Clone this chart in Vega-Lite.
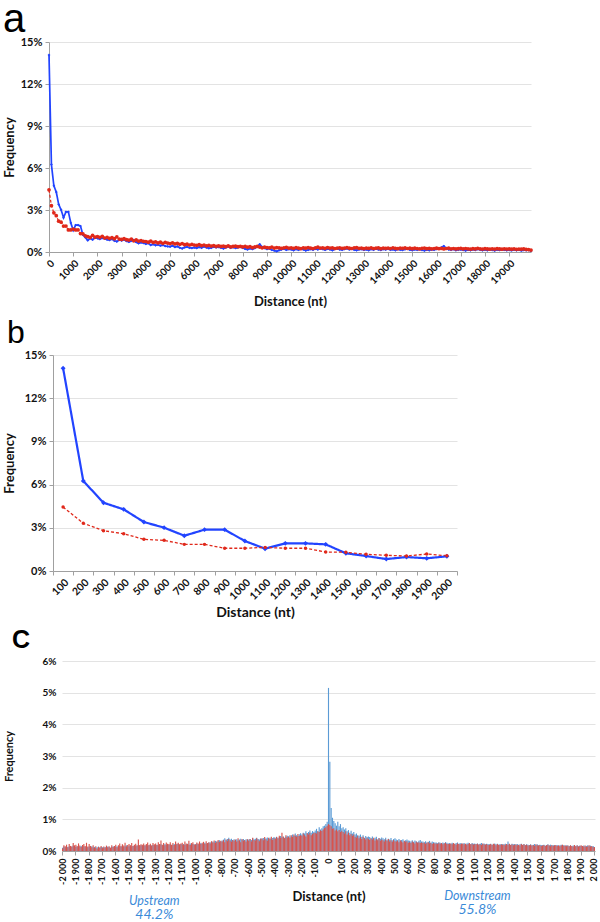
{
"$schema": "https://vega.github.io/schema/vega-lite/v6.json",
"background": "white",
"padding": {"left": 2, "top": 0, "right": 0, "bottom": 0},
"spacing": 8,
"resolve": {"scale": {"color": "independent", "size": "independent", "shape": "independent", "strokeDash": "independent", "strokeWidth": "independent"}},
"config": {
  "view": {"stroke": null},
  "font": "Lato",
  "axis": {"labelFont": "Lato", "labelFontWeight": "bold", "labelColor": "#111", "titleFont": "Lato", "titleFontWeight": "bold", "titleColor": "#111", "gridColor": "#e3e3e3", "domainColor": "#a0a0a0", "tickColor": "#a0a0a0", "tickSize": 4, "labelOverlap": false},
  "axisX": {"grid": false}
},
"datasets": {
"a": [
{"x":0,"b":14.08,"r":4.44},{"x":100,"b":6.25,"r":3.31},{"x":200,"b":4.74,"r":2.80},{"x":300,"b":4.28,"r":2.59},{"x":400,"b":3.40,"r":2.20},{"x":500,"b":3.01,"r":2.13},{"x":600,"b":2.45,"r":1.85},{"x":700,"b":2.87,"r":1.85},{"x":800,"b":2.87,"r":1.58},{"x":900,"b":2.08,"r":1.58},
{"x":1000,"b":1.55,"r":1.64},{"x":1100,"b":1.92,"r":1.58},{"x":1200,"b":1.92,"r":1.58},{"x":1300,"b":1.85,"r":1.32},{"x":1400,"b":1.23,"r":1.30},{"x":1500,"b":1.04,"r":1.16},{"x":1600,"b":0.83,"r":1.09},{"x":1700,"b":0.97,"r":1.04},{"x":1800,"b":0.88,"r":1.18},{"x":1900,"b":1.02,"r":1.06},
{"x":2000,"b":0.98,"r":1.10},{"x":2100,"b":0.92,"r":1.05},{"x":2200,"b":1.00,"r":1.12},{"x":2300,"b":0.95,"r":1.00},{"x":2400,"b":0.88,"r":1.04},{"x":2500,"b":0.85,"r":0.98},{"x":2600,"b":0.92,"r":1.02},{"x":2700,"b":0.80,"r":0.95},{"x":2800,"b":0.75,"r":1.08},{"x":2900,"b":0.86,"r":0.92},
{"x":3000,"b":0.82,"r":0.90},{"x":3100,"b":0.88,"r":0.95},{"x":3200,"b":0.78,"r":0.88},{"x":3300,"b":0.72,"r":0.85},{"x":3400,"b":0.80,"r":0.92},{"x":3500,"b":0.86,"r":0.80},{"x":3600,"b":0.70,"r":0.86},{"x":3700,"b":0.62,"r":0.78},{"x":3800,"b":0.68,"r":0.82},{"x":3900,"b":0.64,"r":0.76},
{"x":4000,"b":0.58,"r":0.75},{"x":4100,"b":0.62,"r":0.70},{"x":4200,"b":0.50,"r":0.78},{"x":4300,"b":0.55,"r":0.68},{"x":4400,"b":0.48,"r":0.72},{"x":4500,"b":0.52,"r":0.65},{"x":4600,"b":0.45,"r":0.70},{"x":4700,"b":0.50,"r":0.62},{"x":4800,"b":0.42,"r":0.68},{"x":4900,"b":0.40,"r":0.64},
{"x":5000,"b":0.38,"r":0.60},{"x":5100,"b":0.45,"r":0.66},{"x":5200,"b":0.35,"r":0.58},{"x":5300,"b":0.40,"r":0.62},{"x":5400,"b":0.30,"r":0.55},{"x":5500,"b":0.25,"r":0.60},{"x":5600,"b":0.33,"r":0.52},{"x":5700,"b":0.36,"r":0.56},{"x":5800,"b":0.30,"r":0.50},{"x":5900,"b":0.28,"r":0.54},
{"x":6000,"b":0.32,"r":0.50},{"x":6100,"b":0.28,"r":0.48},{"x":6200,"b":0.35,"r":0.52},{"x":6300,"b":0.30,"r":0.46},{"x":6400,"b":0.38,"r":0.50},{"x":6500,"b":0.32,"r":0.44},{"x":6600,"b":0.27,"r":0.48},{"x":6700,"b":0.30,"r":0.42},{"x":6800,"b":0.36,"r":0.46},{"x":6900,"b":0.33,"r":0.40},
{"x":7000,"b":0.35,"r":0.44},{"x":7100,"b":0.30,"r":0.40},{"x":7200,"b":0.25,"r":0.42},{"x":7300,"b":0.32,"r":0.38},{"x":7400,"b":0.38,"r":0.44},{"x":7500,"b":0.30,"r":0.36},{"x":7600,"b":0.34,"r":0.40},{"x":7700,"b":0.28,"r":0.42},{"x":7800,"b":0.32,"r":0.38},{"x":7900,"b":0.36,"r":0.40},
{"x":8000,"b":0.30,"r":0.36},{"x":8100,"b":0.22,"r":0.40},{"x":8200,"b":0.18,"r":0.34},{"x":8300,"b":0.25,"r":0.38},{"x":8400,"b":0.20,"r":0.32},{"x":8500,"b":0.28,"r":0.36},{"x":8600,"b":0.40,"r":0.40},{"x":8700,"b":0.55,"r":0.35},{"x":8800,"b":0.35,"r":0.30},{"x":8900,"b":0.28,"r":0.34},
{"x":9000,"b":0.20,"r":0.32},{"x":9100,"b":0.25,"r":0.30},{"x":9200,"b":0.15,"r":0.35},{"x":9300,"b":0.10,"r":0.28},{"x":9400,"b":0.05,"r":0.32},{"x":9500,"b":0.12,"r":0.30},{"x":9600,"b":0.18,"r":0.26},{"x":9700,"b":0.22,"r":0.30},{"x":9800,"b":0.15,"r":0.33},{"x":9900,"b":0.20,"r":0.28},
{"x":10000,"b":0.18,"r":0.30},{"x":10100,"b":0.12,"r":0.26},{"x":10200,"b":0.20,"r":0.32},{"x":10300,"b":0.15,"r":0.28},{"x":10400,"b":0.22,"r":0.24},{"x":10500,"b":0.18,"r":0.30},{"x":10600,"b":0.10,"r":0.27},{"x":10700,"b":0.15,"r":0.32},{"x":10800,"b":0.20,"r":0.28},{"x":10900,"b":0.16,"r":0.25},
{"x":11000,"b":0.22,"r":0.30},{"x":11100,"b":0.18,"r":0.34},{"x":11200,"b":0.25,"r":0.28},{"x":11300,"b":0.20,"r":0.30},{"x":11400,"b":0.15,"r":0.26},{"x":11500,"b":0.22,"r":0.32},{"x":11600,"b":0.18,"r":0.28},{"x":11700,"b":0.12,"r":0.30},{"x":11800,"b":0.20,"r":0.25},{"x":11900,"b":0.24,"r":0.28},
{"x":12000,"b":0.18,"r":0.30},{"x":12100,"b":0.15,"r":0.26},{"x":12200,"b":0.20,"r":0.28},{"x":12300,"b":0.25,"r":0.32},{"x":12400,"b":0.18,"r":0.27},{"x":12500,"b":0.22,"r":0.25},{"x":12600,"b":0.16,"r":0.29},{"x":12700,"b":0.12,"r":0.31},{"x":12800,"b":0.18,"r":0.26},{"x":12900,"b":0.20,"r":0.28},
{"x":13000,"b":0.15,"r":0.24},{"x":13100,"b":0.18,"r":0.28},{"x":13200,"b":0.12,"r":0.26},{"x":13300,"b":0.20,"r":0.30},{"x":13400,"b":0.16,"r":0.25},{"x":13500,"b":0.22,"r":0.27},{"x":13600,"b":0.18,"r":0.29},{"x":13700,"b":0.14,"r":0.24},{"x":13800,"b":0.20,"r":0.28},{"x":13900,"b":0.17,"r":0.26},
{"x":14000,"b":0.22,"r":0.28},{"x":14100,"b":0.15,"r":0.25},{"x":14200,"b":0.18,"r":0.30},{"x":14300,"b":0.12,"r":0.26},{"x":14400,"b":0.20,"r":0.24},{"x":14500,"b":0.16,"r":0.28},{"x":14600,"b":0.14,"r":0.26},{"x":14700,"b":0.19,"r":0.29},{"x":14800,"b":0.22,"r":0.25},{"x":14900,"b":0.15,"r":0.27},
{"x":15000,"b":0.12,"r":0.24},{"x":15100,"b":0.18,"r":0.27},{"x":15200,"b":0.15,"r":0.25},{"x":15300,"b":0.20,"r":0.22},{"x":15400,"b":0.14,"r":0.26},{"x":15500,"b":0.10,"r":0.28},{"x":15600,"b":0.16,"r":0.24},{"x":15700,"b":0.12,"r":0.26},{"x":15800,"b":0.18,"r":0.23},{"x":15900,"b":0.15,"r":0.25},
{"x":16000,"b":0.20,"r":0.27},{"x":16100,"b":0.25,"r":0.24},{"x":16200,"b":0.32,"r":0.26},{"x":16300,"b":0.42,"r":0.22},{"x":16400,"b":0.28,"r":0.25},{"x":16500,"b":0.18,"r":0.27},{"x":16600,"b":0.15,"r":0.23},{"x":16700,"b":0.20,"r":0.25},{"x":16800,"b":0.12,"r":0.22},{"x":16900,"b":0.16,"r":0.24},
{"x":17000,"b":0.18,"r":0.26},{"x":17100,"b":0.14,"r":0.22},{"x":17200,"b":0.10,"r":0.25},{"x":17300,"b":0.15,"r":0.23},{"x":17400,"b":0.12,"r":0.20},{"x":17500,"b":0.18,"r":0.24},{"x":17600,"b":0.14,"r":0.22},{"x":17700,"b":0.20,"r":0.26},{"x":17800,"b":0.16,"r":0.23},{"x":17900,"b":0.12,"r":0.21},
{"x":18000,"b":0.15,"r":0.24},{"x":18100,"b":0.12,"r":0.22},{"x":18200,"b":0.18,"r":0.20},{"x":18300,"b":0.14,"r":0.23},{"x":18400,"b":0.10,"r":0.21},{"x":18500,"b":0.16,"r":0.24},{"x":18600,"b":0.13,"r":0.22},{"x":18700,"b":0.18,"r":0.20},{"x":18800,"b":0.15,"r":0.23},{"x":18900,"b":0.12,"r":0.21},
{"x":19000,"b":0.14,"r":0.22},{"x":19100,"b":0.11,"r":0.20},{"x":19200,"b":0.16,"r":0.23},{"x":19300,"b":0.12,"r":0.19},{"x":19400,"b":0.15,"r":0.21},{"x":19500,"b":0.10,"r":0.20},{"x":19600,"b":0.13,"r":0.22},{"x":19700,"b":0.12,"r":0.18},{"x":19800,"b":0.14,"r":0.17},{"x":19900,"b":0.08,"r":0.14}
],
"bb": [
{"x":100,"b":14.08,"r":4.44},{"x":200,"b":6.25,"r":3.31},{"x":300,"b":4.74,"r":2.80},{"x":400,"b":4.28,"r":2.59},{"x":500,"b":3.40,"r":2.20},{"x":600,"b":3.01,"r":2.13},{"x":700,"b":2.45,"r":1.85},{"x":800,"b":2.87,"r":1.85},{"x":900,"b":2.87,"r":1.58},{"x":1000,"b":2.08,"r":1.58},
{"x":1100,"b":1.55,"r":1.64},{"x":1200,"b":1.92,"r":1.58},{"x":1300,"b":1.92,"r":1.58},{"x":1400,"b":1.85,"r":1.32},{"x":1500,"b":1.23,"r":1.30},{"x":1600,"b":1.04,"r":1.16},{"x":1700,"b":0.83,"r":1.09},{"x":1800,"b":0.97,"r":1.04},{"x":1900,"b":0.88,"r":1.18},{"x":2000,"b":1.02,"r":1.06}
],
"c": [
{"d":-2000,"b":0.10,"r":0.08},{"d":-1990,"b":0.14,"r":0.18},{"d":-1980,"b":0.12,"r":0.15},{"d":-1970,"b":0.16,"r":0.20},{"d":-1960,"b":0.13,"r":0.12},{"d":-1950,"b":0.15,"r":0.22},{"d":-1940,"b":0.11,"r":0.16},{"d":-1930,"b":0.14,"r":0.14},{"d":-1920,"b":0.17,"r":0.25},{"d":-1910,"b":0.12,"r":0.18},
{"d":-1900,"b":0.13,"r":0.20},{"d":-1890,"b":0.15,"r":0.15},{"d":-1880,"b":0.12,"r":0.24},{"d":-1870,"b":0.14,"r":0.17},{"d":-1860,"b":0.16,"r":0.13},{"d":-1850,"b":0.11,"r":0.19},{"d":-1840,"b":0.15,"r":0.22},{"d":-1830,"b":0.13,"r":0.16},{"d":-1820,"b":0.14,"r":0.26},{"d":-1810,"b":0.12,"r":0.14},
{"d":-1800,"b":0.14,"r":0.22},{"d":-1790,"b":0.12,"r":0.16},{"d":-1780,"b":0.15,"r":0.12},{"d":-1770,"b":0.11,"r":0.18},{"d":-1760,"b":0.13,"r":0.10},{"d":-1750,"b":0.10,"r":0.15},{"d":-1740,"b":0.12,"r":0.08},{"d":-1730,"b":0.14,"r":0.13},{"d":-1720,"b":0.11,"r":0.11},{"d":-1710,"b":0.13,"r":0.16},
{"d":-1700,"b":0.12,"r":0.09},{"d":-1690,"b":0.10,"r":0.14},{"d":-1680,"b":0.13,"r":0.11},{"d":-1670,"b":0.11,"r":0.17},{"d":-1660,"b":0.14,"r":0.12},{"d":-1650,"b":0.12,"r":0.15},{"d":-1640,"b":0.10,"r":0.10},{"d":-1630,"b":0.13,"r":0.18},{"d":-1620,"b":0.15,"r":0.13},{"d":-1610,"b":0.12,"r":0.16},
{"d":-1600,"b":0.13,"r":0.20},{"d":-1590,"b":0.15,"r":0.12},{"d":-1580,"b":0.12,"r":0.18},{"d":-1570,"b":0.16,"r":0.24},{"d":-1560,"b":0.14,"r":0.15},{"d":-1550,"b":0.17,"r":0.21},{"d":-1540,"b":0.13,"r":0.17},{"d":-1530,"b":0.15,"r":0.26},{"d":-1520,"b":0.18,"r":0.14},{"d":-1510,"b":0.14,"r":0.19},
{"d":-1500,"b":0.15,"r":0.22},{"d":-1490,"b":0.17,"r":0.18},{"d":-1480,"b":0.14,"r":0.25},{"d":-1470,"b":0.16,"r":0.16},{"d":-1460,"b":0.18,"r":0.20},{"d":-1450,"b":0.15,"r":0.23},{"d":-1440,"b":0.17,"r":0.17},{"d":-1430,"b":0.19,"r":0.36},{"d":-1420,"b":0.16,"r":0.19},{"d":-1410,"b":0.18,"r":0.21},
{"d":-1400,"b":0.16,"r":0.20},{"d":-1390,"b":0.18,"r":0.24},{"d":-1380,"b":0.17,"r":0.18},{"d":-1370,"b":0.19,"r":0.22},{"d":-1360,"b":0.16,"r":0.27},{"d":-1350,"b":0.18,"r":0.19},{"d":-1340,"b":0.20,"r":0.23},{"d":-1330,"b":0.17,"r":0.17},{"d":-1320,"b":0.19,"r":0.25},{"d":-1310,"b":0.18,"r":0.21},
{"d":-1300,"b":0.18,"r":0.24},{"d":-1290,"b":0.20,"r":0.19},{"d":-1280,"b":0.17,"r":0.28},{"d":-1270,"b":0.19,"r":0.22},{"d":-1260,"b":0.21,"r":0.33},{"d":-1250,"b":0.18,"r":0.20},{"d":-1240,"b":0.20,"r":0.25},{"d":-1230,"b":0.22,"r":0.18},{"d":-1220,"b":0.19,"r":0.27},{"d":-1210,"b":0.21,"r":0.23},
{"d":-1200,"b":0.19,"r":0.22},{"d":-1190,"b":0.21,"r":0.28},{"d":-1180,"b":0.18,"r":0.20},{"d":-1170,"b":0.20,"r":0.25},{"d":-1160,"b":0.22,"r":0.19},{"d":-1150,"b":0.19,"r":0.30},{"d":-1140,"b":0.21,"r":0.23},{"d":-1130,"b":0.23,"r":0.26},{"d":-1120,"b":0.20,"r":0.21},{"d":-1110,"b":0.22,"r":0.24},
{"d":-1100,"b":0.20,"r":0.26},{"d":-1090,"b":0.22,"r":0.20},{"d":-1080,"b":0.19,"r":0.30},{"d":-1070,"b":0.21,"r":0.24},{"d":-1060,"b":0.23,"r":0.22},{"d":-1050,"b":0.20,"r":0.32},{"d":-1040,"b":0.24,"r":0.19},{"d":-1030,"b":0.21,"r":0.25},{"d":-1020,"b":0.22,"r":0.28},{"d":-1010,"b":0.20,"r":0.21},
{"d":-1000,"b":0.22,"r":0.20},{"d":-990,"b":0.24,"r":0.27},{"d":-980,"b":0.21,"r":0.24},{"d":-970,"b":0.23,"r":0.30},{"d":-960,"b":0.25,"r":0.22},{"d":-950,"b":0.22,"r":0.26},{"d":-940,"b":0.24,"r":0.29},{"d":-930,"b":0.26,"r":0.23},{"d":-920,"b":0.23,"r":0.31},{"d":-910,"b":0.25,"r":0.25},
{"d":-900,"b":0.26,"r":0.28},{"d":-890,"b":0.28,"r":0.24},{"d":-880,"b":0.25,"r":0.31},{"d":-870,"b":0.30,"r":0.27},{"d":-860,"b":0.27,"r":0.33},{"d":-850,"b":0.32,"r":0.26},{"d":-840,"b":0.29,"r":0.30},{"d":-830,"b":0.31,"r":0.35},{"d":-820,"b":0.34,"r":0.28},{"d":-810,"b":0.30,"r":0.32},
{"d":-800,"b":0.33,"r":0.30},{"d":-790,"b":0.36,"r":0.34},{"d":-780,"b":0.40,"r":0.28},{"d":-770,"b":0.34,"r":0.36},{"d":-760,"b":0.38,"r":0.31},{"d":-750,"b":0.42,"r":0.38},{"d":-740,"b":0.36,"r":0.33},{"d":-730,"b":0.39,"r":0.29},{"d":-720,"b":0.35,"r":0.35},{"d":-710,"b":0.37,"r":0.32},
{"d":-700,"b":0.34,"r":0.36},{"d":-690,"b":0.37,"r":0.30},{"d":-680,"b":0.33,"r":0.40},{"d":-670,"b":0.36,"r":0.33},{"d":-660,"b":0.39,"r":0.28},{"d":-650,"b":0.35,"r":0.38},{"d":-640,"b":0.38,"r":0.32},{"d":-630,"b":0.34,"r":0.35},{"d":-620,"b":0.37,"r":0.30},{"d":-610,"b":0.36,"r":0.37},
{"d":-600,"b":0.36,"r":0.32},{"d":-590,"b":0.38,"r":0.38},{"d":-580,"b":0.35,"r":0.30},{"d":-570,"b":0.40,"r":0.42},{"d":-560,"b":0.37,"r":0.35},{"d":-550,"b":0.39,"r":0.33},{"d":-540,"b":0.42,"r":0.40},{"d":-530,"b":0.38,"r":0.36},{"d":-520,"b":0.36,"r":0.31},{"d":-510,"b":0.40,"r":0.38},
{"d":-500,"b":0.38,"r":0.40},{"d":-490,"b":0.41,"r":0.34},{"d":-480,"b":0.37,"r":0.44},{"d":-470,"b":0.40,"r":0.37},{"d":-460,"b":0.43,"r":0.32},{"d":-450,"b":0.39,"r":0.42},{"d":-440,"b":0.42,"r":0.38},{"d":-430,"b":0.38,"r":0.45},{"d":-420,"b":0.41,"r":0.35},{"d":-410,"b":0.44,"r":0.41},
{"d":-400,"b":0.42,"r":0.38},{"d":-390,"b":0.45,"r":0.44},{"d":-380,"b":0.40,"r":0.40},{"d":-370,"b":0.44,"r":0.48},{"d":-360,"b":0.47,"r":0.42},{"d":-350,"b":0.43,"r":0.58},{"d":-340,"b":0.46,"r":0.45},{"d":-330,"b":0.42,"r":0.40},{"d":-320,"b":0.45,"r":0.50},{"d":-310,"b":0.48,"r":0.43},
{"d":-300,"b":0.46,"r":0.46},{"d":-290,"b":0.50,"r":0.42},{"d":-280,"b":0.45,"r":0.50},{"d":-270,"b":0.52,"r":0.44},{"d":-260,"b":0.48,"r":0.52},{"d":-250,"b":0.55,"r":0.48},{"d":-240,"b":0.50,"r":0.45},{"d":-230,"b":0.47,"r":0.54},{"d":-220,"b":0.53,"r":0.47},{"d":-210,"b":0.56,"r":0.50},
{"d":-200,"b":0.52,"r":0.48},{"d":-190,"b":0.58,"r":0.55},{"d":-180,"b":0.55,"r":0.50},{"d":-170,"b":0.62,"r":0.46},{"d":-160,"b":0.57,"r":0.56},{"d":-150,"b":0.60,"r":0.52},{"d":-140,"b":0.65,"r":0.58},{"d":-130,"b":0.58,"r":0.50},{"d":-120,"b":0.63,"r":0.54},{"d":-110,"b":0.60,"r":0.57},
{"d":-100,"b":0.65,"r":0.58},{"d":-90,"b":0.70,"r":0.55},{"d":-80,"b":0.62,"r":0.62},{"d":-70,"b":0.75,"r":0.60},{"d":-60,"b":0.68,"r":0.65},{"d":-50,"b":0.72,"r":0.63},{"d":-40,"b":0.78,"r":0.68},{"d":-30,"b":0.80,"r":0.72},{"d":-20,"b":0.85,"r":0.75},{"d":-10,"b":0.92,"r":0.80},
{"d":0,"b":5.15,"r":0.85},
{"d":10,"b":2.82,"r":0.82},{"d":20,"b":1.36,"r":0.78},{"d":30,"b":1.05,"r":0.70},{"d":40,"b":0.95,"r":0.72},{"d":50,"b":0.88,"r":0.65},{"d":60,"b":0.80,"r":0.68},{"d":70,"b":0.92,"r":0.62},{"d":80,"b":0.78,"r":0.66},{"d":90,"b":0.85,"r":0.60},{"d":100,"b":0.72,"r":0.64},
{"d":110,"b":0.75,"r":0.60},{"d":120,"b":0.68,"r":0.55},{"d":130,"b":0.72,"r":0.62},{"d":140,"b":0.62,"r":0.52},{"d":150,"b":0.66,"r":0.58},{"d":160,"b":0.58,"r":0.50},{"d":170,"b":0.64,"r":0.54},{"d":180,"b":0.55,"r":0.48},{"d":190,"b":0.60,"r":0.52},{"d":200,"b":0.52,"r":0.45},
{"d":210,"b":0.55,"r":0.42},{"d":220,"b":0.50,"r":0.48},{"d":230,"b":0.48,"r":0.40},{"d":240,"b":0.52,"r":0.44},{"d":250,"b":0.45,"r":0.38},{"d":260,"b":0.50,"r":0.45},{"d":270,"b":0.42,"r":0.40},{"d":280,"b":0.47,"r":0.36},{"d":290,"b":0.44,"r":0.42},{"d":300,"b":0.46,"r":0.38},
{"d":310,"b":0.44,"r":0.35},{"d":320,"b":0.40,"r":0.40},{"d":330,"b":0.46,"r":0.36},{"d":340,"b":0.38,"r":0.42},{"d":350,"b":0.42,"r":0.33},{"d":360,"b":0.45,"r":0.38},{"d":370,"b":0.37,"r":0.34},{"d":380,"b":0.41,"r":0.40},{"d":390,"b":0.39,"r":0.32},{"d":400,"b":0.43,"r":0.36},
{"d":410,"b":0.40,"r":0.34},{"d":420,"b":0.37,"r":0.30},{"d":430,"b":0.42,"r":0.36},{"d":440,"b":0.35,"r":0.32},{"d":450,"b":0.39,"r":0.38},{"d":460,"b":0.36,"r":0.30},{"d":470,"b":0.41,"r":0.34},{"d":480,"b":0.34,"r":0.29},{"d":490,"b":0.38,"r":0.35},{"d":500,"b":0.40,"r":0.31},
{"d":510,"b":0.36,"r":0.30},{"d":520,"b":0.34,"r":0.33},{"d":530,"b":0.38,"r":0.28},{"d":540,"b":0.32,"r":0.34},{"d":550,"b":0.35,"r":0.30},{"d":560,"b":0.37,"r":0.27},{"d":570,"b":0.31,"r":0.32},{"d":580,"b":0.34,"r":0.29},{"d":590,"b":0.36,"r":0.31},{"d":600,"b":0.33,"r":0.26},
{"d":610,"b":0.32,"r":0.28},{"d":620,"b":0.30,"r":0.25},{"d":630,"b":0.34,"r":0.30},{"d":640,"b":0.29,"r":0.27},{"d":650,"b":0.33,"r":0.24},{"d":660,"b":0.31,"r":0.29},{"d":670,"b":0.28,"r":0.26},{"d":680,"b":0.32,"r":0.28},{"d":690,"b":0.35,"r":0.25},{"d":700,"b":0.30,"r":0.27},
{"d":710,"b":0.30,"r":0.25},{"d":720,"b":0.28,"r":0.27},{"d":730,"b":0.31,"r":0.23},{"d":740,"b":0.27,"r":0.26},{"d":750,"b":0.29,"r":0.28},{"d":760,"b":0.32,"r":0.24},{"d":770,"b":0.26,"r":0.26},{"d":780,"b":0.30,"r":0.22},{"d":790,"b":0.28,"r":0.25},{"d":800,"b":0.27,"r":0.24},
{"d":810,"b":0.27,"r":0.24},{"d":820,"b":0.25,"r":0.22},{"d":830,"b":0.28,"r":0.26},{"d":840,"b":0.26,"r":0.23},{"d":850,"b":0.24,"r":0.25},{"d":860,"b":0.27,"r":0.21},{"d":870,"b":0.25,"r":0.24},{"d":880,"b":0.28,"r":0.26},{"d":890,"b":0.26,"r":0.22},{"d":900,"b":0.24,"r":0.23},
{"d":910,"b":0.25,"r":0.22},{"d":920,"b":0.23,"r":0.24},{"d":930,"b":0.26,"r":0.21},{"d":940,"b":0.24,"r":0.25},{"d":950,"b":0.22,"r":0.23},{"d":960,"b":0.25,"r":0.20},{"d":970,"b":0.27,"r":0.24},{"d":980,"b":0.23,"r":0.22},{"d":990,"b":0.25,"r":0.21},{"d":1000,"b":0.24,"r":0.23},
{"d":1010,"b":0.23,"r":0.24},{"d":1020,"b":0.25,"r":0.21},{"d":1030,"b":0.22,"r":0.23},{"d":1040,"b":0.24,"r":0.20},{"d":1050,"b":0.26,"r":0.22},{"d":1060,"b":0.23,"r":0.25},{"d":1070,"b":0.22,"r":0.21},{"d":1080,"b":0.25,"r":0.23},{"d":1090,"b":0.23,"r":0.20},{"d":1100,"b":0.24,"r":0.22},
{"d":1110,"b":0.22,"r":0.21},{"d":1120,"b":0.24,"r":0.23},{"d":1130,"b":0.21,"r":0.20},{"d":1140,"b":0.23,"r":0.22},{"d":1150,"b":0.25,"r":0.19},{"d":1160,"b":0.22,"r":0.24},{"d":1170,"b":0.24,"r":0.21},{"d":1180,"b":0.21,"r":0.20},{"d":1190,"b":0.23,"r":0.22},{"d":1200,"b":0.22,"r":0.19},
{"d":1210,"b":0.21,"r":0.20},{"d":1220,"b":0.23,"r":0.22},{"d":1230,"b":0.20,"r":0.19},{"d":1240,"b":0.22,"r":0.23},{"d":1250,"b":0.24,"r":0.21},{"d":1260,"b":0.21,"r":0.18},{"d":1270,"b":0.23,"r":0.22},{"d":1280,"b":0.20,"r":0.20},{"d":1290,"b":0.22,"r":0.19},{"d":1300,"b":0.21,"r":0.21},
{"d":1310,"b":0.22,"r":0.19},{"d":1320,"b":0.20,"r":0.21},{"d":1330,"b":0.23,"r":0.18},{"d":1340,"b":0.21,"r":0.22},{"d":1350,"b":0.30,"r":0.20},{"d":1360,"b":0.22,"r":0.23},{"d":1370,"b":0.20,"r":0.19},{"d":1380,"b":0.23,"r":0.21},{"d":1390,"b":0.21,"r":0.18},{"d":1400,"b":0.22,"r":0.20},
{"d":1410,"b":0.20,"r":0.21},{"d":1420,"b":0.22,"r":0.18},{"d":1430,"b":0.19,"r":0.20},{"d":1440,"b":0.21,"r":0.17},{"d":1450,"b":0.23,"r":0.22},{"d":1460,"b":0.20,"r":0.19},{"d":1470,"b":0.22,"r":0.21},{"d":1480,"b":0.19,"r":0.18},{"d":1490,"b":0.21,"r":0.20},{"d":1500,"b":0.20,"r":0.17},
{"d":1510,"b":0.19,"r":0.18},{"d":1520,"b":0.21,"r":0.20},{"d":1530,"b":0.18,"r":0.17},{"d":1540,"b":0.20,"r":0.19},{"d":1550,"b":0.22,"r":0.16},{"d":1560,"b":0.19,"r":0.21},{"d":1570,"b":0.21,"r":0.18},{"d":1580,"b":0.18,"r":0.17},{"d":1590,"b":0.20,"r":0.19},{"d":1600,"b":0.19,"r":0.16},
{"d":1610,"b":0.18,"r":0.17},{"d":1620,"b":0.20,"r":0.19},{"d":1630,"b":0.17,"r":0.16},{"d":1640,"b":0.19,"r":0.18},{"d":1650,"b":0.21,"r":0.20},{"d":1660,"b":0.18,"r":0.17},{"d":1670,"b":0.20,"r":0.15},{"d":1680,"b":0.17,"r":0.19},{"d":1690,"b":0.19,"r":0.16},{"d":1700,"b":0.18,"r":0.18},
{"d":1710,"b":0.17,"r":0.19},{"d":1720,"b":0.19,"r":0.16},{"d":1730,"b":0.16,"r":0.18},{"d":1740,"b":0.18,"r":0.15},{"d":1750,"b":0.20,"r":0.17},{"d":1760,"b":0.17,"r":0.20},{"d":1770,"b":0.19,"r":0.16},{"d":1780,"b":0.16,"r":0.18},{"d":1790,"b":0.18,"r":0.15},{"d":1800,"b":0.17,"r":0.17},
{"d":1810,"b":0.16,"r":0.15},{"d":1820,"b":0.18,"r":0.18},{"d":1830,"b":0.15,"r":0.16},{"d":1840,"b":0.17,"r":0.14},{"d":1850,"b":0.19,"r":0.19},{"d":1860,"b":0.16,"r":0.15},{"d":1870,"b":0.18,"r":0.17},{"d":1880,"b":0.15,"r":0.14},{"d":1890,"b":0.17,"r":0.16},{"d":1900,"b":0.16,"r":0.18},
{"d":1910,"b":0.15,"r":0.16},{"d":1920,"b":0.17,"r":0.14},{"d":1930,"b":0.14,"r":0.17},{"d":1940,"b":0.16,"r":0.13},{"d":1950,"b":0.18,"r":0.15},{"d":1960,"b":0.15,"r":0.18},{"d":1970,"b":0.17,"r":0.14},{"d":1980,"b":0.14,"r":0.16},{"d":1990,"b":0.16,"r":0.13},{"d":2000,"b":0.13,"r":0.12}
],
"n": [
{"d":-1310,"v":-1.58,"t":"Upstream","k":"w"},{"d":-1310,"v":-2.02,"t":"44.2%","k":"p"},
{"d":1120,"v":-1.42,"t":"Downstream","k":"w"},{"d":1120,"v":-1.86,"t":"55.8%","k":"p"}
]
},
"vconcat": [
{"spacing": 0, "hconcat": [
{"width": 1, "height": 1, "data": {"values": []}, "mark": {"type": "point", "opacity": 0}, "encoding": {}},
{
  "width": 482, "height": 210,
  "title": {"text": "a", "anchor": "start", "frame": "group", "dx": -46, "offset": -36, "baseline": "alphabetic", "font": "Liberation Sans", "fontSize": 40, "fontWeight": "normal", "color": "#000"},
  "data": {"name": "a"},
  "transform": [{"fold": ["b", "r"], "as": ["s", "v"]}],
  "encoding": {
    "x": {"field": "x", "type": "quantitative", "scale": {"domain": [0, 19900], "nice": false, "zero": false},
      "axis": {"values": [0,1000,2000,3000,4000,5000,6000,7000,8000,9000,10000,11000,12000,13000,14000,15000,16000,17000,18000,19000], "format": "d", "labelAngle": -45, "labelFontSize": 10, "title": "Distance (nt)", "titleFontSize": 13, "titlePadding": 10}},
    "y": {"field": "v", "type": "quantitative", "scale": {"domain": [0, 15]},
      "axis": {"values": [0,3,6,9,12,15], "labelExpr": "datum.value + '%'", "labelFontSize": 11, "labelPadding": 3, "grid": true, "title": "Frequency", "titleFontSize": 13, "titleX": -33}},
    "color": {"field": "s", "type": "nominal", "scale": {"domain": ["b", "r"], "range": ["#2244ff", "#e0281a"]}, "legend": null}
  },
  "layer": [
    {"mark": {"type": "line"}, "encoding": {
      "strokeDash": {"field": "s", "type": "nominal", "scale": {"domain": ["b", "r"], "range": [[1, 0], [3, 2]]}, "legend": null},
      "strokeWidth": {"field": "s", "type": "ordinal", "scale": {"domain": ["b", "r"], "range": [1.7, 1.2]}, "legend": null}}},
    {"mark": {"type": "point", "filled": true, "opacity": 1}, "encoding": {
      "shape": {"field": "s", "type": "nominal", "scale": {"domain": ["b", "r"], "range": ["diamond", "circle"]}, "legend": null},
      "size": {"field": "s", "type": "ordinal", "scale": {"domain": ["b", "r"], "range": [8, 14]}, "legend": null}}}
  ]
}]},
{"spacing": 0, "hconcat": [
{"width": 1, "height": 1, "data": {"values": []}, "mark": {"type": "point", "opacity": 0}, "encoding": {}},
{
  "width": 404, "height": 216,
  "title": {"text": "b", "anchor": "start", "frame": "group", "dx": -46, "offset": -26, "baseline": "alphabetic", "font": "Liberation Sans", "fontSize": 32, "fontWeight": "normal", "color": "#000"},
  "data": {"name": "bb"},
  "transform": [{"fold": ["b", "r"], "as": ["s", "v"]}],
  "encoding": {
    "x": {"field": "x", "type": "ordinal", "scale": {"type": "band", "paddingInner": 0, "paddingOuter": 0},
      "axis": {"labelAngle": -45, "labelFontSize": 10.5, "tickBand": "extent", "title": "Distance (nt)", "titleFontSize": 14, "titlePadding": 4}},
    "y": {"field": "v", "type": "quantitative", "scale": {"domain": [0, 15]},
      "axis": {"values": [0,3,6,9,12,15], "labelExpr": "datum.value + '%'", "labelFontSize": 11, "labelPadding": 3, "grid": true, "title": "Frequency", "titleFontSize": 13, "titleX": -37}},
    "color": {"field": "s", "type": "nominal", "scale": {"domain": ["b", "r"], "range": ["#2244ff", "#e0281a"]}, "legend": null}
  },
  "layer": [
    {"mark": {"type": "line"}, "encoding": {
      "strokeDash": {"field": "s", "type": "nominal", "scale": {"domain": ["b", "r"], "range": [[1, 0], [3, 2]]}, "legend": null},
      "strokeWidth": {"field": "s", "type": "ordinal", "scale": {"domain": ["b", "r"], "range": [2.2, 1.3]}, "legend": null}}},
    {"mark": {"type": "point", "filled": true, "opacity": 1}, "encoding": {
      "shape": {"field": "s", "type": "nominal", "scale": {"domain": ["b", "r"], "range": ["diamond", "circle"]}, "legend": null},
      "size": {"field": "s", "type": "ordinal", "scale": {"domain": ["b", "r"], "range": [24, 12]}, "legend": null}}}
  ]
}]},
{"spacing": 0, "hconcat": [
{"width": 1, "height": 1, "data": {"values": []}, "mark": {"type": "point", "opacity": 0}, "encoding": {}},
{
  "width": 533, "height": 190,
  "title": {"text": "C", "anchor": "start", "frame": "group", "dx": -50, "offset": -17, "baseline": "alphabetic", "font": "Liberation Sans", "fontSize": 25, "fontWeight": "bold", "color": "#000"},
  "encoding": {
    "x": {"field": "d", "type": "ordinal", "scale": {"paddingInner": 0.15, "paddingOuter": 0},
      "axis": {"values": [-2000,-1900,-1800,-1700,-1600,-1500,-1400,-1300,-1200,-1100,-1000,-900,-800,-700,-600,-500,-400,-300,-200,-100,0,100,200,300,400,500,600,700,800,900,1000,1100,1200,1300,1400,1500,1600,1700,1800,1900,2000],
        "labelExpr": "(datum.value < 0 ? '-' : '') + (abs(datum.value) >= 1000 ? floor(abs(datum.value) / 1000) + ' ' + (abs(datum.value) % 1000 == 0 ? '000' : abs(datum.value) % 1000) : abs(datum.value))",
        "labelAngle": -90, "labelFontSize": 9, "labelPadding": 3, "title": "Distance (nt)", "titleFontSize": 13, "titlePadding": 6}},
    "y": {"field": "v", "type": "quantitative", "scale": {"domain": [0, 6]},
      "axis": {"values": [0,1,2,3,4,5,6], "labelExpr": "datum.value + '%'", "labelFontSize": 10, "labelPadding": 6, "grid": true, "domain": false, "ticks": false, "title": "Frequency", "titleFontSize": 11, "titleX": -48}}
  },
  "layer": [
    {"data": {"name": "c"}, "transform": [{"fold": ["b", "r"], "as": ["s", "v"]}],
     "mark": {"type": "bar"},
     "encoding": {"y": {"field": "v", "type": "quantitative", "stack": null},
       "color": {"field": "s", "type": "nominal", "scale": {"domain": ["b", "r"], "range": ["#5b9bd5", "#d9534c"]}, "legend": null}}},
    {"data": {"name": "n"}, "transform": [{"filter": "datum.k == 'w'"}],
     "mark": {"type": "text", "font": "Lato", "fontStyle": "italic", "fontSize": 12.5, "color": "#3a8ad8", "baseline": "middle"},
     "encoding": {"text": {"field": "t"}}},
    {"data": {"name": "n"}, "transform": [{"filter": "datum.k == 'p'"}],
     "mark": {"type": "text", "font": "Lato", "fontStyle": "italic", "fontSize": 14, "color": "#3a8ad8", "baseline": "middle"},
     "encoding": {"text": {"field": "t"}}}
  ]
}]}
]
}
